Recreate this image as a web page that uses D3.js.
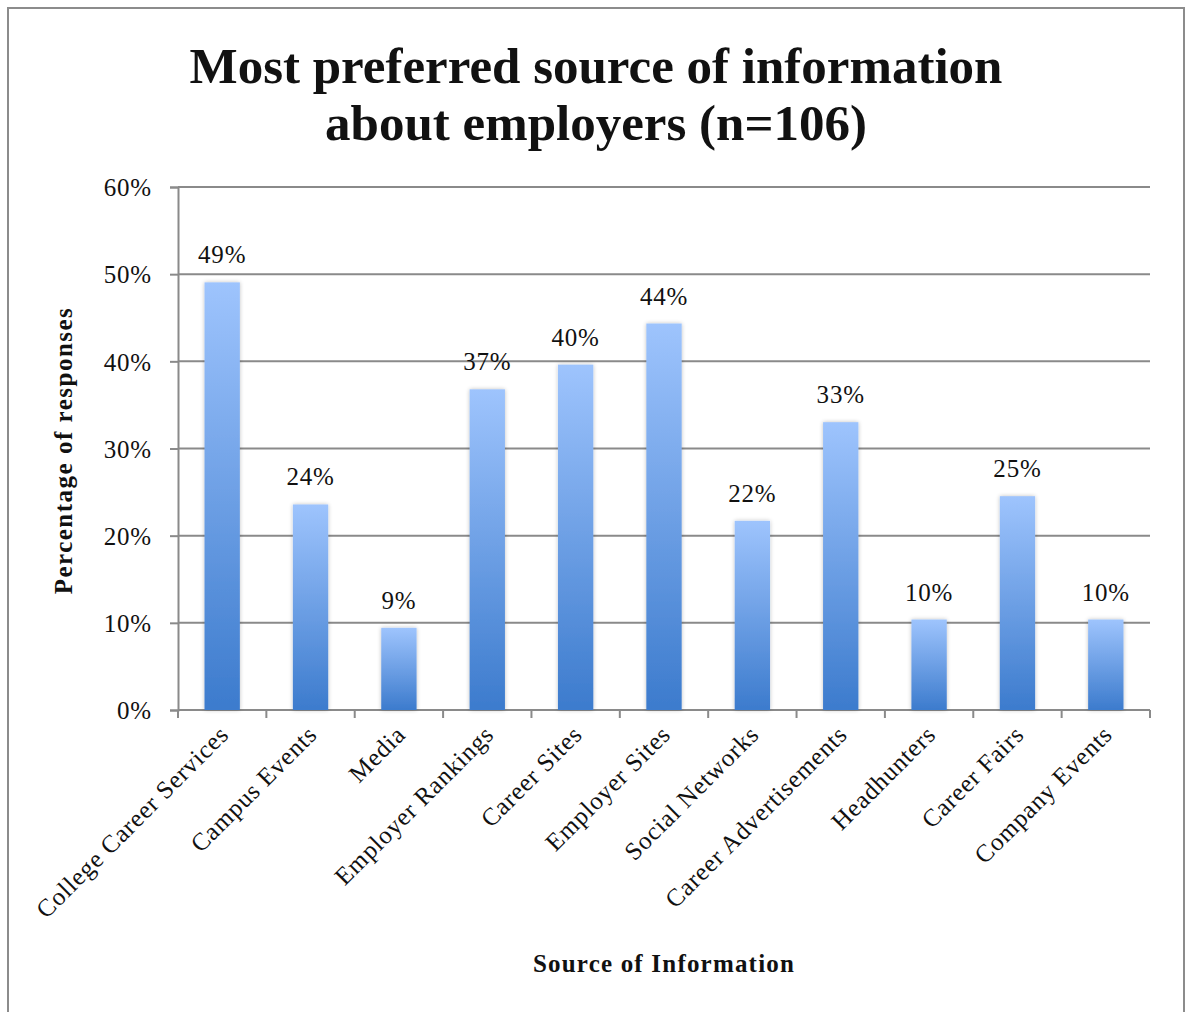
<!DOCTYPE html>
<html>
<head>
<meta charset="utf-8">
<script src="https://cdn.jsdelivr.net/npm/d3@7"></script>
<style>
  html, body { margin: 0; padding: 0; background: #fff; }
  svg { display: block; }
  text { font-family: "Liberation Serif", "DejaVu Serif", serif; fill: #111; }
</style>
</head>
<body>
<svg id="chart" width="1191" height="1012"></svg>
<script>
// Survey responses: most preferred source of information about employers (n=106)
const categories = [
  "College Career Services", "Campus Events", "Media", "Employer Rankings",
  "Career Sites", "Employer Sites", "Social Networks", "Career Advertisements",
  "Headhunters", "Career Fairs", "Company Events"
];
const shares = [49.06, 23.58, 9.43, 36.79, 39.62, 44.34, 21.70, 33.02, 10.38, 24.53, 10.38];
const yTicks = [0, 10, 20, 30, 40, 50, 60];
const titleLines = ["Most preferred source of information", "about employers (n=106)"];
const yTitle = "Percentage of responses";
const xTitle = "Source of Information";

const svg = d3.select("#chart");
const axisColor = "#8a8a8a";
const labelSize = "25px";
const spacing = "0.8px";

// outer frame
svg.append("rect")
  .attr("x", 8).attr("y", 8).attr("width", 1176).attr("height", 1010)
  .attr("fill", "#fff").attr("stroke", "#8c8c8c").attr("stroke-width", 2);

const plot = { left: 178, right: 1150, top: 187, bottom: 710 };

const x = d3.scaleBand().domain(categories)
  .range([plot.left, plot.right]).paddingInner(0.6).paddingOuter(0.3);
const y = d3.scaleLinear().domain([0, 60]).range([plot.bottom, plot.top]);

// bar gradient (light at top, deeper blue at bottom)
const defs = svg.append("defs");
const grad = defs.append("linearGradient").attr("id", "barGrad")
  .attr("x1", 0).attr("y1", 0).attr("x2", 0).attr("y2", 1);
grad.append("stop").attr("offset", "0%").attr("stop-color", "#9ec4fd");
grad.append("stop").attr("offset", "100%").attr("stop-color", "#3c7bcd");

const shadow = defs.append("filter").attr("id", "barShadow")
  .attr("x", "-30%").attr("y", "-10%").attr("width", "160%").attr("height", "120%");
shadow.append("feGaussianBlur").attr("in", "SourceAlpha").attr("stdDeviation", 2).attr("result", "b");
shadow.append("feComponentTransfer").attr("in", "b").attr("result", "s")
  .append("feFuncA").attr("type", "linear").attr("slope", 0.25);
const merge = shadow.append("feMerge");
merge.append("feMergeNode").attr("in", "s");
merge.append("feMergeNode").attr("in", "SourceGraphic");

// title
svg.append("text")
  .attr("x", 596).attr("y", 83)
  .attr("text-anchor", "middle")
  .style("font-size", "51px").style("font-weight", "bold")
  .selectAll("tspan").data(titleLines).join("tspan")
  .attr("x", 596).attr("dy", (d, i) => i === 0 ? 0 : 57)
  .text(d => d);

// horizontal gridlines
svg.append("g").selectAll("line").data(yTicks.filter(t => t > 0)).join("line")
  .attr("x1", plot.left).attr("x2", plot.right)
  .attr("y1", d => y(d)).attr("y2", d => y(d))
  .attr("stroke", axisColor).attr("stroke-width", 2);

// y axis
const yAxis = svg.append("g")
  .attr("transform", `translate(${plot.left},0)`)
  .call(d3.axisLeft(y).tickValues(yTicks).tickFormat(d => d + "%").tickSize(8).tickPadding(18));
yAxis.select(".domain").attr("stroke", axisColor).attr("stroke-width", 2);
yAxis.selectAll(".tick line").attr("stroke", axisColor).attr("stroke-width", 2);
yAxis.selectAll(".tick text")
  .style("font-family", "'Liberation Serif', serif").style("font-size", labelSize)
  .style("letter-spacing", spacing)
  .attr("fill", "#111").attr("dy", "0.35em");

// x axis: ticks at band boundaries
const bounds = categories.map(c => x(c) - x.step() * x.paddingInner() / 2);
bounds.push(plot.right);
svg.append("line")
  .attr("x1", plot.left).attr("x2", plot.right)
  .attr("y1", plot.bottom).attr("y2", plot.bottom)
  .attr("stroke", axisColor).attr("stroke-width", 2);
svg.append("g").selectAll("line").data(bounds).join("line")
  .attr("x1", d => d).attr("x2", d => d)
  .attr("y1", plot.bottom).attr("y2", plot.bottom + 8)
  .attr("stroke", axisColor).attr("stroke-width", 2);

// bars
svg.append("g").selectAll("rect").data(shares).join("rect")
  .attr("x", (d, i) => x(categories[i]))
  .attr("width", x.bandwidth())
  .attr("y", d => y(d))
  .attr("height", d => y(0) - y(d))
  .attr("fill", "url(#barGrad)")
  .attr("filter", "url(#barShadow)");

// value labels
svg.append("g").selectAll("text").data(shares).join("text")
  .attr("x", (d, i) => x(categories[i]) + x.bandwidth() / 2)
  .attr("y", d => y(d) - 19)
  .attr("text-anchor", "middle")
  .style("font-size", labelSize).style("letter-spacing", spacing)
  .text(d => d3.format(".0f")(d) + "%");

// category labels, rotated
svg.append("g").selectAll("text").data(categories).join("text")
  .attr("transform", c => `translate(${x(c) + x.bandwidth() / 2 + 8},${plot.bottom + 26}) rotate(-45)`)
  .attr("text-anchor", "end")
  .style("font-size", labelSize).style("letter-spacing", spacing)
  .text(c => c);

// axis titles
svg.append("text")
  .attr("transform", `translate(72,${(plot.top + plot.bottom) / 2 + 2}) rotate(-90)`)
  .attr("text-anchor", "middle")
  .style("font-size", "25px").style("font-weight", "bold").style("letter-spacing", "1.5px")
  .text(yTitle);

svg.append("text")
  .attr("x", 664).attr("y", 972)
  .attr("text-anchor", "middle")
  .style("font-size", "25px").style("font-weight", "bold").style("letter-spacing", "1.2px")
  .text(xTitle);
</script>
</body>
</html>
